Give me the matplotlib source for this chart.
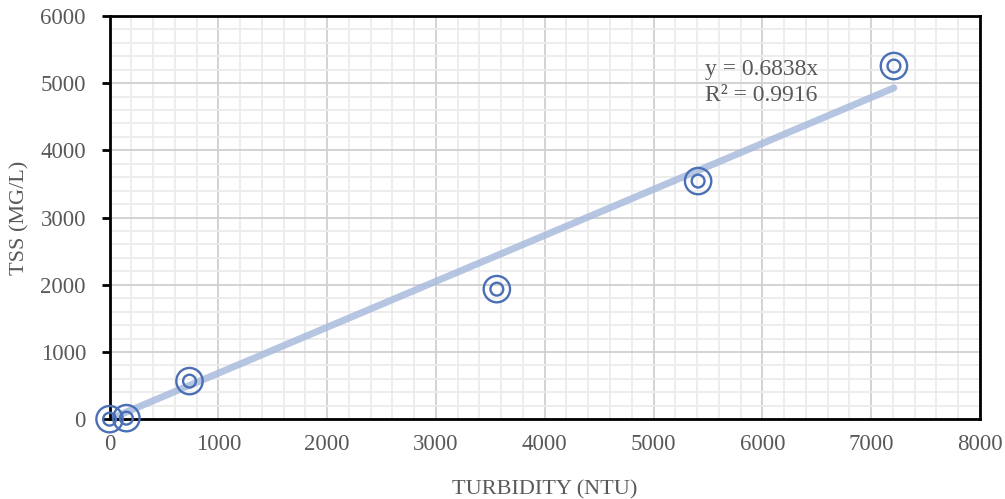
import numpy as np
import matplotlib.pyplot as plt
from matplotlib.ticker import MultipleLocator

plt.rcParams['font.family'] = ['Liberation Serif', 'DejaVu Serif']

# Turbidity vs TSS measurements
turbidity = [0, 155, 735, 3560, 5410, 7210]
tss = [0, 15, 566, 1935, 3543, 5255]
slope = 0.6838
r2 = 0.9916

fig = plt.figure(figsize=(10.05, 4.99), dpi=100)
ax = fig.add_axes([0.109, 0.16, 0.866, 0.808])

grey = '#595959'
blue = '#4a6fb5'

# Excel-style grid
ax.xaxis.set_major_locator(MultipleLocator(1000))
ax.xaxis.set_minor_locator(MultipleLocator(200))
ax.yaxis.set_major_locator(MultipleLocator(1000))
ax.yaxis.set_minor_locator(MultipleLocator(200))
ax.grid(which='major', color='#d0d0d0', linewidth=1.3)
ax.grid(which='minor', color='#ececec', linewidth=1.3)
ax.set_axisbelow(True)

# linear trendline through origin
xt = np.array([0, max(turbidity)])
ax.plot(xt, slope * xt, color='#a9bbdd', linewidth=5, alpha=0.85,
        solid_capstyle='round', zorder=2)

# double-circle markers
ax.scatter(turbidity, tss, s=360, facecolors='none', edgecolors=blue,
           linewidths=1.7, zorder=3, clip_on=False)
ax.scatter(turbidity, tss, s=85, facecolors='none', edgecolors=blue,
           linewidths=1.7, zorder=3, clip_on=False)

ax.text(5470, 5196, 'y = %.4fx' % slope, fontsize=17, color=grey, va='center')
ax.text(5470, 4810, 'R² = %.4f' % r2, fontsize=17, color=grey, va='center')

ax.set_xlim(0, 8000)
ax.set_ylim(0, 6000)

for s in ax.spines.values():
    s.set_linewidth(2)
    s.set_color('black')

ax.tick_params(axis='y', which='major', length=6, width=2, color='black',
               labelsize=16.5, labelcolor=grey, pad=11)
ax.tick_params(axis='x', which='major', length=0, labelsize=16.5,
               labelcolor=grey, pad=11)
ax.tick_params(which='minor', length=0)

ax.set_xlabel('TURBIDITY (NTU)', fontsize=16, color=grey, labelpad=18)
ax.set_ylabel('TSS (MG/L)', fontsize=16, color=grey, labelpad=8)

fig.savefig('out.png', dpi=100)
